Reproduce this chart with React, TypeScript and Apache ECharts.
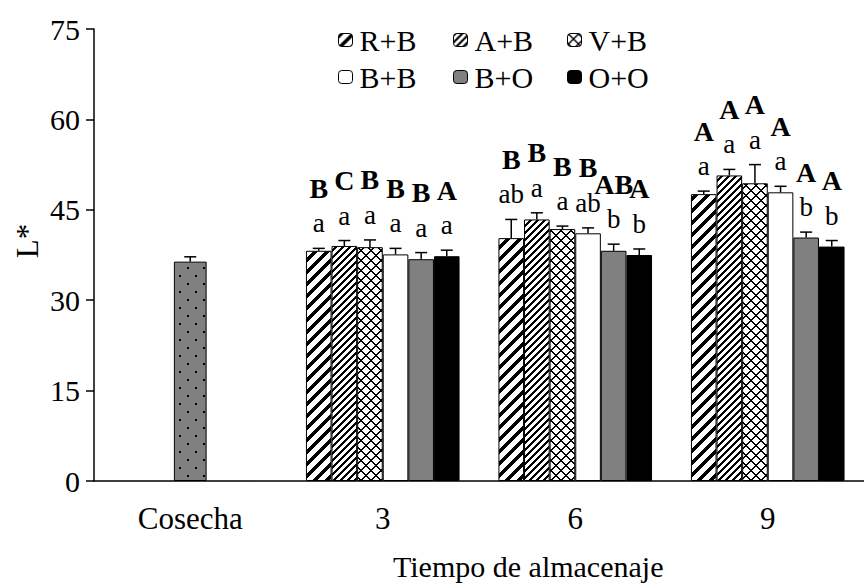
import React, { useEffect, useRef } from 'react';
import * as echarts from 'echarts';

const categories = ['Cosecha', '3', '6', '9'];
const treatments = ['R+B', 'A+B', 'V+B', 'B+B', 'B+O', 'O+O'];
const yTicks = [0, 15, 30, 45, 60, 75];

// Cosecha (harvest) bar
const harvestValue = [36.4];
const harvestError = [0.8];

// storage times 3, 6, 9
const rbValues = [38.2, 40.3, 47.6];
const abValues = [39.0, 43.4, 50.7];
const vbValues = [38.8, 41.8, 49.4];
const bbValues = [37.6, 41.1, 47.9];
const boValues = [36.8, 38.2, 40.4];
const ooValues = [37.3, 37.5, 38.9];

const rbErrors = [0.4, 3.1, 0.5];
const abErrors = [0.9, 1.1, 1.0];
const vbErrors = [1.2, 0.5, 3.1];
const bbErrors = [1.0, 0.9, 1.0];
const boErrors = [1.1, 1.1, 0.9];
const ooErrors = [1.0, 1.0, 1.0];

const rbLower = ['a', 'ab', 'a'];
const abLower = ['a', 'a', 'a'];
const vbLower = ['a', 'a', 'a'];
const bbLower = ['a', 'ab', 'a'];
const boLower = ['a', 'b', 'b'];
const ooLower = ['a', 'b', 'b'];

const rbUpper = ['B', 'B', 'A'];
const abUpper = ['C', 'B', 'A'];
const vbUpper = ['B', 'B', 'A'];
const bbUpper = ['B', 'B', 'A'];
const boUpper = ['B', 'AB', 'A'];
const ooUpper = ['A', 'A', 'A'];

const allValues = [rbValues, abValues, vbValues, bbValues, boValues, ooValues];
const allErrors = [rbErrors, abErrors, vbErrors, bbErrors, boErrors, ooErrors];
const allLower = [rbLower, abLower, vbLower, bbLower, boLower, ooLower];
const allUpper = [rbUpper, abUpper, vbUpper, bbUpper, boUpper, ooUpper];

const FONT = 'Liberation Serif';
const BAR_RATIO = 0.133;
const HARVEST_RATIO = 0.17;

function makeTile(size: number, bg: string, fn: (x: number, y: number) => boolean, fg = '#000') {
  const c = document.createElement('canvas');
  c.width = size;
  c.height = size;
  const ctx = c.getContext('2d')!;
  ctx.fillStyle = bg;
  ctx.fillRect(0, 0, size, size);
  ctx.fillStyle = fg;
  for (let y = 0; y < size; y++) {
    for (let x = 0; x < size; x++) {
      if (fn(x, y)) ctx.fillRect(x, y, 1, 1);
    }
  }
  return { image: c.toDataURL(), repeat: 'repeat', imageWidth: size, imageHeight: size };
}

export default function App() {
  const ref = useRef<HTMLDivElement>(null);

  useEffect(() => {
    if (!ref.current) return;
    const chart = echarts.init(ref.current, undefined, { renderer: 'svg' });

    const mod = (a: number, m: number) => ((a % m) + m) % m;
    const fills: any[] = [
      makeTile(12, '#fff', (x, y) => mod(x + y, 12) < 5),
      makeTile(7, '#fff', (x, y) => mod(x + y, 7) < 3),
      makeTile(10, '#fff', (x, y) => mod(x + y, 10) < 2 || mod(x - y, 10) < 2),
      '#ffffff',
      '#808080',
      '#000000',
    ];
    const harvestFill: any = makeTile(16, '#808080', (x, y) =>
      (x >= 3 && x < 5 && y >= 3 && y < 5) || (x >= 11 && x < 13 && y >= 11 && y < 13)
    );

    const barSeries = treatments.map((t, i) => ({
      name: t,
      type: 'bar',
      xAxisIndex: 0,
      barWidth: (BAR_RATIO * 100).toFixed(1) + '%',
      barGap: '0%',
      data: [null, ...allValues[i]],
      itemStyle: { color: fills[i], borderColor: '#000', borderWidth: 1 },
      emphasis: { disabled: true },
      z: 2,
    }));

    const harvestSeries = {
      name: 'Cosecha',
      type: 'bar',
      xAxisIndex: 1,
      barWidth: (HARVEST_RATIO * 100).toFixed(0) + '%',
      data: [harvestValue[0], null, null, null],
      itemStyle: { color: harvestFill, borderColor: '#000', borderWidth: 1 },
      emphasis: { disabled: true },
      z: 2,
    };

    const makeErrorSeries = (
      name: string,
      data: number[][],
      offsetIndex: number | null,
      lower: string[] | null,
      upper: string[] | null
    ) => ({
      name,
      type: 'custom',
      xAxisIndex: 0,
      z: 3,
      silent: true,
      encode: { x: 0, y: 1 },
      data,
      renderItem: (params: any, api: any) => {
        const cat = api.value(0);
        const v = api.value(1);
        const e = api.value(2);
        const catW = api.size([1, 0])[0];
        const top = api.coord([cat, v + e]);
        const bot = api.coord([cat, v]);
        const off = offsetIndex === null ? 0 : (offsetIndex - 2.5) * catW * BAR_RATIO;
        const x = top[0] + off;
        const children: any[] = [
          { type: 'line', shape: { x1: x, y1: bot[1], x2: x, y2: top[1] }, style: { stroke: '#000', lineWidth: 1.5 } },
          { type: 'line', shape: { x1: x - 6, y1: top[1], x2: x + 6, y2: top[1] }, style: { stroke: '#000', lineWidth: 1.5 } },
        ];
        if (lower) {
          children.push({
            type: 'text',
            x,
            y: top[1] - 25,
            style: {
              text: lower[params.dataIndex],
              fontSize: 27,
              fontFamily: FONT,
              fill: '#000',
              textAlign: 'center',
              textVerticalAlign: 'middle',
            },
          });
        }
        if (upper) {
          children.push({
            type: 'text',
            x,
            y: top[1] - 60,
            style: {
              text: upper[params.dataIndex],
              fontSize: 28,
              fontWeight: 'bold',
              fontFamily: FONT,
              fill: '#000',
              textAlign: 'center',
              textVerticalAlign: 'middle',
            },
          });
        }
        return { type: 'group', children };
      },
    });

    const errorSeries = treatments.map((t, i) =>
      makeErrorSeries(
        t + ' error',
        allValues[i].map((v, k) => [k + 1, v, allErrors[i][k]]),
        i,
        allLower[i],
        allUpper[i]
      )
    );
    const harvestErrorSeries = makeErrorSeries(
      'Cosecha error',
      [[0, harvestValue[0], harvestError[0]]],
      null,
      null,
      null
    );

    const legendPos = [
      [338, 25],
      [453, 25],
      [567, 25],
      [338, 62],
      [453, 62],
      [567, 62],
    ];
    const legends = treatments.map((t, i) => ({
      data: [t],
      left: legendPos[i][0],
      top: legendPos[i][1],
      padding: 0,
      itemWidth: 14,
      itemHeight: 13,
      selectedMode: false,
      textStyle: { fontSize: 30, fontFamily: FONT, color: '#000', padding: [0, 0, 0, 2] },
      itemStyle: { borderColor: '#000', borderWidth: 1 },
    }));

    chart.setOption({
      animation: false,
      backgroundColor: '#fff',
      textStyle: { fontFamily: FONT },
      grid: { left: 94, right: -8, top: 29, bottom: 105, containLabel: false },
      legend: legends,
      xAxis: [
        {
          type: 'category',
          data: categories,
          axisLine: { show: true, lineStyle: { color: '#000', width: 1.5 } },
          axisTick: { show: false },
          axisLabel: { fontSize: 31, fontFamily: FONT, color: '#000', margin: 22 },
          splitLine: { show: false },
        },
        {
          type: 'category',
          data: categories,
          show: false,
        },
      ],
      yAxis: {
        type: 'value',
        min: yTicks[0],
        max: yTicks[yTicks.length - 1],
        interval: yTicks[1] - yTicks[0],
        axisLine: { show: true, lineStyle: { color: '#000', width: 1.5 } },
        axisTick: { show: true, length: 8, lineStyle: { color: '#000', width: 1.5 } },
        axisLabel: { fontSize: 30, fontFamily: FONT, color: '#000', margin: 14 },
        splitLine: { show: false },
      },
      graphic: [
        {
          type: 'text',
          x: 27,
          y: 241,
          rotation: Math.PI / 2,
          style: {
            text: 'L*',
            fontSize: 31,
            fontFamily: FONT,
            fill: '#000',
            textAlign: 'center',
            textVerticalAlign: 'middle',
          },
        },
        {
          type: 'text',
          x: 393,
          y: 566,
          style: {
            text: 'Tiempo de almacenaje',
            fontSize: 30,
            fontFamily: FONT,
            fill: '#000',
            textAlign: 'left',
            textVerticalAlign: 'middle',
          },
        },
      ],
      series: [...barSeries, harvestSeries, ...errorSeries, harvestErrorSeries],
    });

    return () => {
      chart.dispose();
    };
  }, []);

  return (
    <div
      ref={ref}
      style={{ position: 'fixed', left: 0, top: 0, width: 864, height: 586, background: '#fff' }}
    />
  );
}
